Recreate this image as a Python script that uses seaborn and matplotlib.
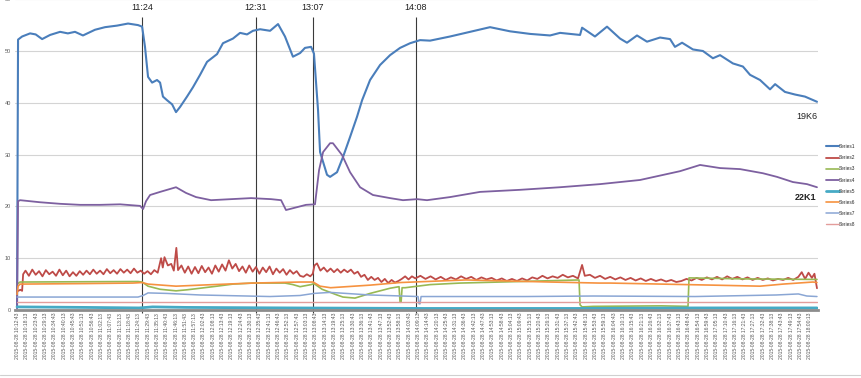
import matplotlib
matplotlib.use('Agg')
import matplotlib.pyplot as plt
import pandas as pd
import seaborn as sns

# x = minutes after 10:12:24 on 2015-08-28, y = reading
s1_t = [0, 0.6, 3.0, 7.7, 11, 14.8, 19.5, 25.4, 30, 34.2, 38.9, 46.0, 51.9, 59.0, 65.5, 71.4,
        73.8, 75.5, 77.3, 79.7, 82.6, 84.4, 86.1, 88.5, 91.5, 93.8, 96.2, 100.3, 103.8, 108.0,
        112.1, 118.0, 121.5, 127.4, 131.6, 135.7, 139.2, 143.4, 149.3, 154.0, 158.1, 162.8,
        167.0, 169.9, 173.5, 175.2, 177.6, 178.8, 182.9, 184.7, 188.8, 192.3, 196.5, 200.6,
        203.6, 208.3, 214.2, 220.1, 226.0, 231.9, 237.8, 243.7, 255.5, 267.3, 279.1, 290.9,
        302.7, 314.5, 320.4, 332.2, 333.4, 341.0, 348.1, 355.8, 359.9, 365.8, 371.7, 379.4,
        385.3, 388.2, 392.4, 398.8, 404.7, 410.6, 414.8, 422.4, 428.3, 432.5, 438.4, 444.3,
        447.3, 453.1, 459.0, 464.9, 472.0]
s1_v = [0.5, 52.2, 52.8, 53.4, 53.2, 52.3, 53.1, 53.7, 53.4, 53.7, 53.0, 54.1, 54.6, 54.9, 55.3, 55.0,
        54.7, 50.8, 45.0, 43.9, 44.4, 43.9, 41.2, 40.5, 39.7, 38.2, 39.2, 41.2, 43.0, 45.4,
        47.9, 49.4, 51.5, 52.4, 53.5, 53.2, 53.9, 54.2, 53.9, 55.2, 52.8, 48.9,
        49.6, 50.6, 50.8, 49.5, 38.6, 30.5, 26.1, 25.7, 26.6, 29.5, 33.4, 37.3,
        40.5, 44.4, 47.3, 49.2, 50.6, 51.5, 52.1, 52.0, 52.8, 53.7, 54.6, 53.8,
        53.3, 53.0, 53.5, 53.1, 54.5, 52.8, 54.7, 52.4, 51.6, 53.0, 51.8, 52.6,
        52.3, 50.8, 51.6, 50.3, 50.0, 48.6, 49.2, 47.6, 47.0, 45.4, 44.4, 42.6,
        43.6, 42.1, 41.6, 41.2, 40.2]

s2_t = [0, 2, 3, 3.6, 5, 7, 9, 11, 13, 15, 17, 19, 21, 23, 25, 27, 29, 31, 33, 35, 37, 39, 41,
        43, 45, 47, 49, 51, 53, 55, 57, 59, 61, 63, 65, 67, 69, 71, 73, 75, 77, 79, 81, 83,
        85, 86, 87, 89, 91, 92.5, 94, 95, 97, 99, 101, 103, 105, 107, 109, 111, 113, 115,
        117, 119, 121, 123, 125, 127, 129, 131, 133, 135, 137, 139, 141, 143, 145, 147, 149,
        151, 153, 155, 157, 159, 161, 163, 165, 167, 169, 171, 173, 174.5, 175.5, 177, 179,
        181, 183, 185, 187, 189, 191, 193, 195, 197, 199, 201, 203, 205, 207, 209, 211, 213,
        215, 217, 219, 221, 223, 225, 227, 229, 231, 233, 235, 238, 241, 244, 247, 250, 253,
        256, 259, 262, 265, 268, 271, 274, 277, 280, 283, 286, 289, 292, 295, 298, 301, 304,
        307, 310, 313, 316, 319, 322, 325, 328, 331, 333.4, 335, 338, 341, 344, 347, 350,
        353, 356, 359, 362, 365, 368, 371, 374, 377, 380, 383, 386, 389, 392, 395, 398, 401,
        404, 407, 410, 413, 416, 419, 422, 425, 428, 431, 434, 437, 440, 443, 446, 449, 452,
        455, 458, 461, 463, 465, 467, 469, 470.5, 472]
s2_v = [3.6, 3.9, 3.7, 6.9, 7.6, 6.6, 7.8, 6.8, 7.5, 6.5, 7.7, 6.9, 7.4, 6.6, 7.8, 6.7, 7.6, 6.5,
        7.3, 6.6, 7.5, 6.8, 7.6, 6.9, 7.8, 7.0, 7.6, 6.9, 7.9, 7.1, 7.7, 7.0, 7.9, 7.2, 7.8,
        7.1, 8.0, 7.2, 7.6, 7.0, 7.5, 6.9, 7.7, 7.2,
        10.0, 8.2, 10.2, 8.6, 8.9, 7.6, 12.0, 7.7, 8.6, 7.2, 8.4, 7.0, 8.3, 7.1, 8.5, 7.3, 8.2,
        7.0, 8.6, 7.4, 8.8, 7.6, 9.6, 8.0, 8.9, 7.5, 8.4, 7.2, 8.6, 7.4, 8.3, 7.0, 8.2, 7.3,
        8.4, 6.9, 8.0, 7.2, 7.9, 6.8, 7.7, 7.0, 7.5, 6.6, 6.4, 6.9, 6.5, 7.0, 8.6, 9.0, 7.6,
        8.2, 7.4, 8.0, 7.3, 7.9, 7.2, 7.8, 7.3, 7.8, 7.0, 7.4, 6.4, 6.8, 5.8, 6.4, 5.8, 6.2,
        5.4, 6.0, 5.2, 5.8, 5.3, 5.6, 6.0, 6.5, 5.9, 6.5, 6.1, 6.6, 6.0, 6.5, 5.9, 6.4, 5.8,
        6.3, 5.9, 6.5, 6.0, 6.4, 5.8, 6.3, 5.9, 6.2, 5.7, 6.1, 5.6, 6.0, 5.6, 6.1, 5.7, 6.3,
        6.0, 6.6, 6.1, 6.5, 6.2, 6.8, 6.3, 6.6, 6.1, 8.7, 6.6, 6.8, 6.2, 6.6, 6.0, 6.4,
        5.9, 6.3, 5.8, 6.2, 5.7, 6.1, 5.6, 6.0, 5.6, 5.9, 5.5, 5.8, 5.4, 5.6, 6.0, 5.7, 6.2,
        5.8, 6.3, 5.9, 6.4, 5.9, 6.5, 6.0, 6.4, 5.9, 6.3, 5.8, 6.2, 5.8, 6.1, 5.7, 6.0, 5.8,
        6.2, 5.8, 6.4, 7.3, 6.0, 7.2, 6.2, 7.0, 4.2]

s3_t = [0, 1.8, 71.4, 73.8, 77.3, 84.4, 93.8, 100.3, 108.0, 118.0, 127.4, 139.2, 158.1, 162.8,
        167.0, 173.5, 175.2, 180.0, 188.8, 192.3, 199.4, 208.3, 220.1, 225.4, 226.0, 226.6,
        227.2, 229.0, 243.7, 261.4, 296.8, 331.6, 332.2, 333.4, 340.0, 380.0, 395.9, 396.5,
        430.0, 472.0]
s3_v = [5.0, 5.4, 5.5, 5.4, 4.6, 4.0, 3.7, 3.9, 4.2, 4.6, 5.0, 5.2, 5.2, 4.9,
        4.5, 4.9, 5.1, 4.0, 2.9, 2.5, 2.3, 3.2, 4.2, 4.5, 1.5, 1.5,
        4.3, 4.3, 4.9, 5.2, 5.5, 5.8, 1.0, 0.6, 0.7, 0.8, 0.7, 6.2,
        6.0, 5.9]

s4_t = [0, 0.6, 1.8, 13.6, 25.4, 37.2, 49.0, 60.8, 72.6, 74.4, 76.1, 78.5, 84.4, 93.8, 99.7,
        105.6, 114.5, 126.3, 138.1, 149.9, 155.8, 158.7, 163.4, 170.5, 175.8, 178.2, 180.6,
        184.7, 186.4, 191.8, 196.5, 202.4, 210.0, 220.1, 227.7, 236.0, 241.9, 255.5, 273.2,
        296.8, 320.4, 344.0, 367.6, 391.2, 403.0, 414.8, 426.6, 440.1, 448.4, 457.8, 466.1,
        472.0]
s4_v = [0.3, 21.0, 21.2, 20.8, 20.5, 20.3, 20.3, 20.4, 20.1, 19.5, 21.0, 22.2, 22.8, 23.7, 22.6,
        21.8, 21.2, 21.4, 21.6, 21.4, 21.2, 19.3, 19.7, 20.3, 20.4, 27.0, 30.5,
        32.2, 32.2, 29.9, 26.6, 23.7, 22.2, 21.6, 21.2, 21.4, 21.2, 21.8, 22.8,
        23.2, 23.7, 24.3, 25.1, 26.8, 28.0, 27.4, 27.2, 26.4, 25.7, 24.7, 24.3,
        23.7]

s5_t = [0, 40, 72, 80, 100, 160, 240, 330, 400, 472]
s5_v = [0.6, 0.5, 0.4, 0.6, 0.5, 0.4, 0.3, 0.3, 0.4, 0.4]

s6_t = [0, 0.6, 1.8, 40, 68.4, 73.8, 77.3, 93.8, 108.0, 139.2, 167.0, 174.7, 178.8, 185.0,
        208.3, 226.0, 264.8, 314.5, 343.4, 350.0, 410.6, 438.4, 451.9, 469.6, 472.0]
s6_v = [3.0, 4.6, 5.0, 5.1, 5.2, 5.3, 5.0, 4.6, 4.8, 5.2, 5.4, 5.4, 4.6, 4.3,
        4.8, 5.3, 5.8, 5.4, 5.2, 5.2, 4.8, 4.6, 5.0, 5.4, 5.3]

s7_t = [0, 71.4, 74.4, 77.3, 88.5, 108.0, 149.3, 167.0, 175.2, 184.7, 208.3, 236.6, 237.2,
        237.8, 238.4, 300.0, 340.0, 400.0, 448.0, 461.0, 466.0, 472.0]
s7_v = [2.5, 2.5, 2.8, 3.3, 3.2, 2.9, 2.6, 2.8, 3.2, 3.4, 2.9, 2.6, 1.2,
        1.2, 2.6, 2.6, 2.7, 2.6, 2.9, 3.1, 2.7, 2.6]

s8_t = [0, 472]
s8_v = [1.5, 1.5]

series_names = ['Series1', 'Series2', 'Series3', 'Series4',
                'Series5', 'Series6', 'Series7', 'Series8']
series_data = [(s1_t, s1_v), (s2_t, s2_v), (s3_t, s3_v), (s4_t, s4_v),
               (s5_t, s5_v), (s6_t, s6_v), (s7_t, s7_v), (s8_t, s8_v)]
colors = ['#4A7EBB', '#BE4B48', '#98B954', '#7D60A0',
          '#46AAC5', '#F69240', '#8AA6D4', '#E39D9B']
widths = [1.5, 1.3, 1.2, 1.3, 2.0, 1.2, 1.1, 1.0]

# marked moments (minutes after start) and their labels
mark_t = [73.8, 141.0, 174.6, 235.4]
mark_text = ['11:24', '12:31', '13:07', '14:08']

# category labels: every 330 s from 10:12:43 to 18:00:13
label_first = '2015-08-28 10:12:43'
label_count = 86
label_step_s = 330
t_start = pd.Timestamp('2015-08-28 10:12:24')

sns.set_theme(style='white')
plt.rcParams['font.family'] = ['Liberation Sans', 'DejaVu Sans']

fig = plt.figure(figsize=(8.62, 3.78), dpi=100)
ax = fig.add_axes([15 / 862, 1 - 310 / 378, (818 - 15) / 862, 310.8 / 378])

for name, (t, v), c, w in zip(series_names, series_data, colors, widths):
    df = pd.DataFrame({'t': t, 'v': v})
    sns.lineplot(data=df, x='t', y='v', ax=ax, color=c, lw=w, label=name,
                 estimator=None, sort=False)

ax.set_xlim(-1.2, 472.6)
ax.set_ylim(0, 60)
ax.set_yticks(range(0, 61, 10))
ax.grid(axis='y', color='#d4d4d4', lw=0.8)
ax.grid(axis='x', visible=False)
for side in ['top', 'right', 'left']:
    ax.spines[side].set_visible(False)
ax.spines['bottom'].set_color('#8c8c8c')
ax.spines['bottom'].set_linewidth(2)
ax.set_xlabel('')
ax.set_ylabel('')

ticks = pd.date_range(label_first, periods=label_count, freq=f'{label_step_s}s')
ax.set_xticks((ticks - t_start).total_seconds() / 60)
ax.set_xticklabels([d.strftime('%Y-%m-%d %H:%M:%S') for d in ticks],
                   rotation=90, fontsize=3.6, color='#595959')
ax.tick_params(axis='x', length=0, pad=2)
ax.tick_params(axis='y', length=0, pad=3, labelsize=4, labelcolor='#595959')

ax.vlines(mark_t, -0.6, 56.5, color='#3a3a3a', lw=0.8, clip_on=False, zorder=1)
for t, s in zip(mark_t, mark_text):
    ax.text(t, 57.6, s, ha='center', va='bottom', fontsize=6.5, color='#222222')

ax.text(466, 38.3, '19K6', ha='center', va='top', fontsize=6.5, color='#222222')
ax.text(465, 22.6, '22K1', ha='center', va='top', fontsize=6.5,
        color='#222222', fontweight='bold')

handles, labels = ax.get_legend_handles_labels()
ax.get_legend().remove()
fig.legend(handles, labels, loc='center left', bbox_to_anchor=(0.958, 0.509),
           frameon=False, fontsize=3.4, handlelength=2.7, labelspacing=1.3,
           handletextpad=0.15, borderaxespad=0, borderpad=0)

fig.add_artist(plt.Line2D([0, 1], [3 / 378, 3 / 378], color='#d0d0d0', lw=0.8))

fig.savefig('out.png', dpi=100)
